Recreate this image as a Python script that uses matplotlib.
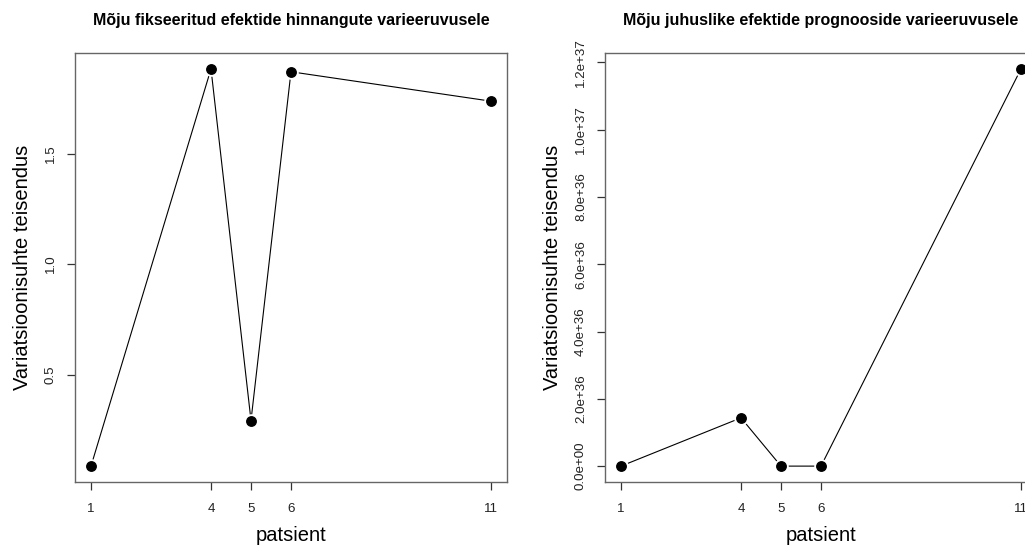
import numpy as np
import matplotlib.pyplot as plt

plt.rcParams["font.family"] = ["Liberation Sans", "DejaVu Sans"]

# patient ids on both panels
patients = [1, 4, 5, 6, 11]

# transformed variance ratio, fixed-effect estimates
fixed_ratio = [0.087, 1.883, 0.293, 1.870, 1.737]

# transformed variance ratio, random-effect predictions
random_ratio = [0.0, 1.435e36, 0.0, 0.0, 1.181e37]

fixed_ticks = [0.5, 1.0, 1.5]
fixed_ticklabels = ["0.5", "1.0", "1.5"]
random_ticks = [0.0, 2e36, 4e36, 6e36, 8e36, 1e37, 1.2e37]
random_ticklabels = ["0.0e+00", "2.0e+36", "4.0e+36", "6.0e+36",
                     "8.0e+36", "1.0e+37", "1.2e+37"]

W, H = 1025, 546
fig = plt.figure(figsize=(W / 100, H / 100), dpi=100)


def r_style_panel(ax, x, y, yticks, yticklabels, title):
    # type="b": line with small gaps around each point
    ax.plot(x, y, "-", color="black", lw=0.8, zorder=1)
    ax.plot(x, y, "o", ms=9.5, color="white", mec="white", zorder=2)
    ax.plot(x, y, "o", ms=6.8, color="black", zorder=3)

    lo, hi = min(y), max(y)
    pad = 0.04 * (hi - lo)
    ax.set_ylim(lo - pad, hi + pad)
    ax.set_xlim(0.6, 11.4)

    ax.set_xticks(x)
    ax.set_xticklabels([str(v) for v in x])
    ax.set_yticks(yticks)
    ax.set_yticklabels(yticklabels, rotation=90, va="center")

    for s in ax.spines.values():
        s.set_color("#666666")
        s.set_linewidth(1.0)
    ax.tick_params(axis="both", direction="out", length=6, width=0.9,
                   color="#333333", labelsize=9.6, labelcolor="#222222")
    ax.tick_params(axis="x", pad=9)
    ax.tick_params(axis="y", pad=7)

    ax.set_xlabel("patsient", fontsize=14.5, labelpad=8)
    ax.set_ylabel("Variatsioonisuhte teisendus", fontsize=14.5, labelpad=9)
    ax.set_title(title, fontsize=11.5, fontweight="bold", pad=20)


# plot boxes in pixels: left, top, right, bottom
left_box = (75, 53, 507, 482)
right_box = (605, 53, 1037, 482)


def to_rect(box):
    l, t, r, b = box
    return [l / W, 1 - b / H, (r - l) / W, (b - t) / H]


ax1 = fig.add_axes(to_rect(left_box))
r_style_panel(ax1, patients, fixed_ratio, fixed_ticks, fixed_ticklabels,
              "Mõju fikseeritud efektide hinnangute varieeruvusele")

ax2 = fig.add_axes(to_rect(right_box))
r_style_panel(ax2, patients, random_ratio, random_ticks, random_ticklabels,
              "Mõju juhuslike efektide prognooside varieeruvusele")

fig.savefig("out.png", dpi=100)
